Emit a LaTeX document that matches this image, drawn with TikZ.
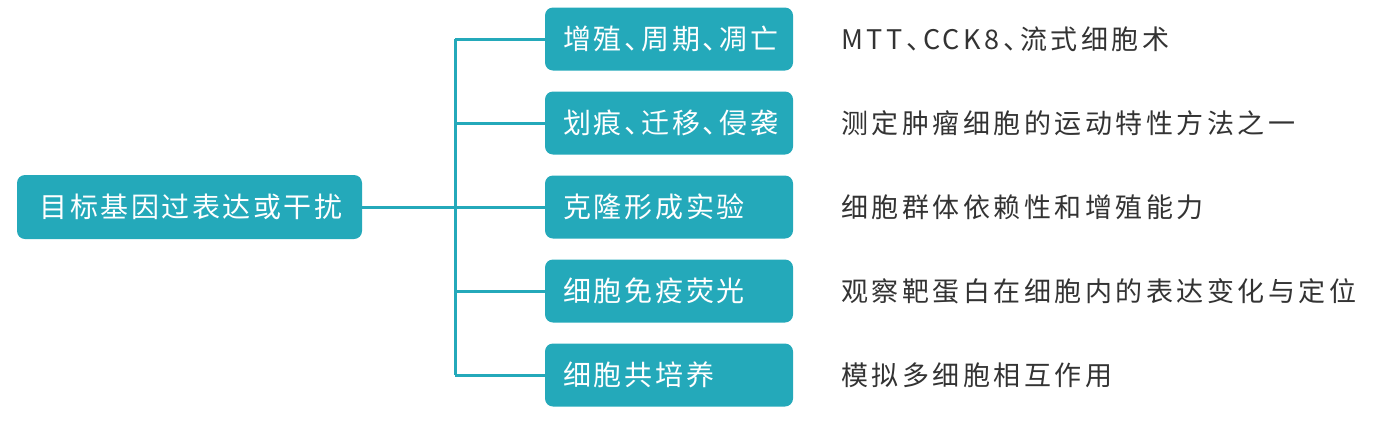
\documentclass[tikz,border=0pt]{standalone}
\usepackage{fontspec}
\setmainfont{Noto Sans CJK SC}
\newfontfamily\rootfont[LetterSpace=9,RawFeature=+halt]{Noto Sans CJK SC}
\newfontfamily\boxfont[LetterSpace=10,RawFeature=+halt]{Noto Sans CJK SC}
\newfontfamily\descfont[LetterSpace=13,RawFeature=+halt]{Noto Sans CJK SC}
\definecolor{teal1}{HTML}{24A9BA}
\definecolor{txt}{HTML}{333333}
\tikzset{
  rootbox/.style={fill=teal1, rounded corners=8pt, minimum width=345pt, minimum height=64pt, inner sep=0pt, text=white, font=\rootfont\fontsize{28pt}{31pt}\selectfont},
  childbox/.style={fill=teal1, rounded corners=8pt, minimum width=248pt, minimum height=63pt, text width=212pt, inner xsep=18pt, inner ysep=0pt, align=left, text=white, font=\boxfont\fontsize{28pt}{31pt}\selectfont},
  desc/.style={anchor=west, inner sep=0pt, text=txt, font=\descfont\fontsize{27pt}{30pt}\selectfont},
  conn/.style={draw=teal1, line width=3pt}
}
\begin{document}
\begin{tikzpicture}[x=1pt,y=-1pt]
\useasboundingbox (0,0) rectangle (1398,424);
\node[rootbox] (root) at (189.5,207) {\hspace*{3pt}目标基因过表达或干扰};
\node[childbox] (b1) at (669,39) {增殖、周期、凋亡};
\node[childbox] (b2) at (669,123) {划痕、迁移、侵袭};
\node[childbox] (b3) at (669,207) {克隆形成实验};
\node[childbox] (b4) at (669,291) {细胞免疫荧光};
\node[childbox] (b5) at (669,375) {细胞共培养};
\node[desc] (d1) at (841,39) {MTT、CCK8、流式细胞术};
\node[desc] (d2) at (841,123) {测定肿瘤细胞的运动特性方法之一};
\node[desc] (d3) at (841,207) {细胞群体依赖性和增殖能力};
\node[desc] (d4) at (841,291) {观察靶蛋白在细胞内的表达变化与定位};
\node[desc] (d5) at (841,375) {模拟多细胞相互作用};
\coordinate (t1) at (455,39);
\coordinate (t5) at (455,375);
\draw[conn] (t1) -- (t5);
\draw[conn] (root.east) -- (root.east -| t1);
\foreach \i in {1,...,5} {
  \draw[conn] (b\i.west -| t1) -- (b\i.west);
}
\end{tikzpicture}
\end{document}
